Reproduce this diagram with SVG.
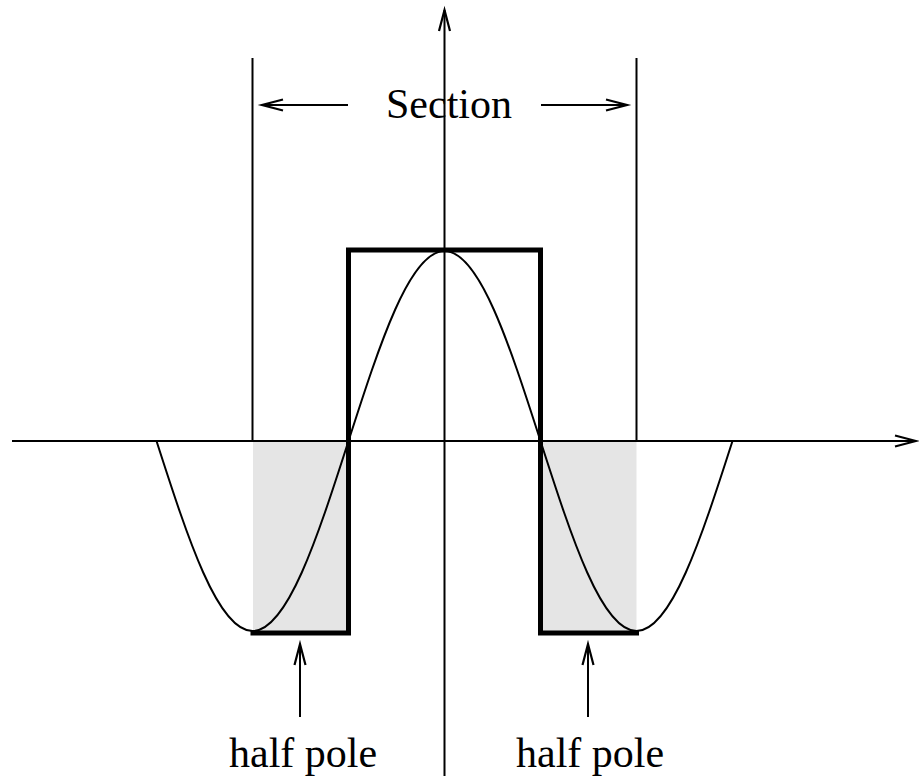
<svg xmlns="http://www.w3.org/2000/svg" width="919" height="780" viewBox="0 0 919 780">
<style>
.thin{fill:none;stroke:#000;stroke-width:2}
.thick{fill:none;stroke:#000;stroke-width:5;stroke-linejoin:miter;stroke-linecap:square}
.shade{fill:#e5e5e5;stroke:none}
.lbl{font-family:"Liberation Serif","Times New Roman",serif;font-size:42px;fill:#000}
</style>
<defs>
<marker id="ah" markerUnits="userSpaceOnUse" markerWidth="30" markerHeight="20" viewBox="-24 -10 30 20" refX="0" refY="0" orient="auto">
<path d="M-21,-5.5 L0,0 L-21,5.5" fill="none" stroke="#000" stroke-width="2.2" stroke-linejoin="miter"/>
</marker>
</defs>
<g id="shading">
<rect class="shade" x="253" y="441" width="95.5" height="192"/>
<rect class="shade" x="540.5" y="441" width="96" height="192"/>
</g>
<g id="connectors">
<line class="thin" x1="12" y1="441" x2="916" y2="441" marker-end="url(#ah)"/>
<line class="thin" x1="444.5" y1="776" x2="444.5" y2="10" marker-end="url(#ah)"/>
<line class="thin" x1="252.5" y1="58" x2="252.5" y2="441"/>
<line class="thin" x1="636.5" y1="58" x2="636.5" y2="441"/>
<line class="thin" x1="348" y1="105" x2="262" y2="105" marker-end="url(#ah)"/>
<line class="thin" x1="541" y1="105" x2="627" y2="105" marker-end="url(#ah)"/>
<line class="thin" x1="300" y1="717" x2="300" y2="644" marker-end="url(#ah)"/>
<line class="thin" x1="588" y1="717" x2="588" y2="644" marker-end="url(#ah)"/>
</g>
<g id="square-wave">
<path class="thick" d="M253,633 H348.5 V250 H540.5 V633 H636.5"/>
</g>
<g id="cosine">
<path class="thin" d="M156.5,441 C187.81,538.33 217.76,631 252.5,631 C287.24,631 317.19,538.33 348.5,441 C379.81,343.67 409.76,251 444.5,251 C479.24,251 509.19,343.67 540.5,441 C571.81,538.33 601.76,631 636.5,631 C671.24,631 701.19,538.33 732.5,441"/>
</g>
<g id="labels">
<text class="lbl" x="386" y="118">Section</text>
<text class="lbl" x="229" y="767">half pole</text>
<text class="lbl" x="516" y="767">half pole</text>
</g>
</svg>
